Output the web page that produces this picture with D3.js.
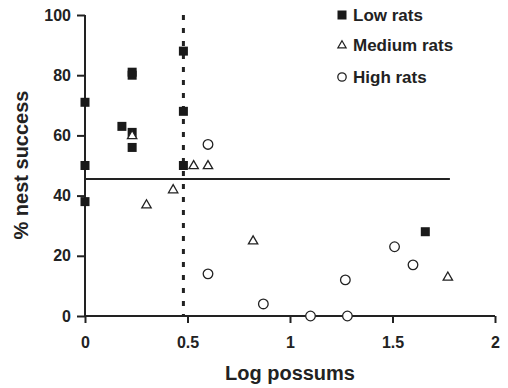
<!DOCTYPE html>
<html>
<head>
<meta charset="utf-8">
<script src="https://cdn.jsdelivr.net/npm/d3@7"></script>
<style>
  body { margin: 0; background: #fff; }
  text { font-family: "Liberation Sans", Arial, sans-serif; font-weight: bold; fill: #222; }
</style>
</head>
<body>
<div id="chart"></div>
<script>
/* CONSTANTS AND GLOBALS */
const width = 508,
  height = 388,
  margin = { top: 15, bottom: 72, left: 85, right: 13 };

// data: log possums (x) vs % nest success (y)
const lowRats = [
  [0, 71], [0, 50], [0, 38], [0.18, 63], [0.23, 81], [0.23, 80],
  [0.23, 61], [0.23, 56], [0.48, 88], [0.48, 68], [0.48, 50], [1.66, 28]
];
const mediumRats = [
  [0.23, 60], [0.30, 37], [0.43, 42], [0.53, 50], [0.60, 50], [0.82, 25], [1.77, 13]
];
const highRats = [
  [0.60, 57], [0.60, 14], [0.87, 4], [1.10, 0], [1.28, 0], [1.27, 12], [1.51, 23], [1.60, 17]
];
const xTicks = [0, 0.5, 1, 1.5, 2];
const yTicks = [0, 20, 40, 60, 80, 100];
const legendLabels = ["Low rats", "Medium rats", "High rats"];
const thresholdY = 45.5;   // horizontal reference line
const thresholdX = 0.48;   // dotted vertical line
const hLineEnd = 1.78;

const svg = d3.select("#chart").append("svg")
  .attr("width", width)
  .attr("height", height);

//SCALES
const xScale = d3.scaleLinear()
  .domain([0, 2])
  .range([margin.left, 495]);

const yScale = d3.scaleLinear()
  .domain([0, 100])
  .range([316, margin.top]);

//AXES
const xAxis = d3.axisBottom(xScale)
  .tickValues(xTicks)
  .tickSize(7)
  .tickPadding(14)
  .tickFormat(d3.format("~g"));

const yAxis = d3.axisLeft(yScale)
  .tickValues(yTicks)
  .tickSize(8)
  .tickPadding(6);

const xAxisGroup = svg.append("g")
  .attr("transform", `translate(0, ${yScale(0)})`)
  .call(xAxis);

const yAxisGroup = svg.append("g")
  .attr("transform", `translate(${margin.left}, 0)`)
  .call(yAxis);

[xAxisGroup, yAxisGroup].forEach(g => {
  g.select(".domain").attr("stroke", "#222").attr("stroke-width", 2);
  g.selectAll(".tick line").attr("stroke", "#222").attr("stroke-width", 2);
  g.selectAll(".tick text")
    .attr("font-size", 16)
    .attr("font-family", "Liberation Sans, Arial, sans-serif")
    .attr("font-weight", "bold")
    .attr("fill", "#222");
});
xAxisGroup.select(".domain").attr("d", `M${xScale(0)},0H${xScale(2)}`);
yAxisGroup.select(".domain").attr("d", `M0,${yScale(0)}V${yScale(100)}`);

//axis titles
svg.append("text")
  .attr("x", (xScale(0) + xScale(2)) / 2)
  .attr("y", 380)
  .attr("text-anchor", "middle")
  .attr("font-size", 20)
  .text("Log possums");

svg.append("text")
  .attr("transform", `translate(28, 165)rotate(-90)`)
  .attr("text-anchor", "middle")
  .attr("font-size", 20)
  .text("% nest success");

//reference lines
svg.append("line")
  .attr("x1", xScale(0))
  .attr("x2", xScale(hLineEnd))
  .attr("y1", yScale(thresholdY))
  .attr("y2", yScale(thresholdY))
  .attr("stroke", "#222")
  .attr("stroke-width", 2);

svg.append("line")
  .attr("x1", xScale(thresholdX))
  .attr("x2", xScale(thresholdX))
  .attr("y1", yScale(100))
  .attr("y2", yScale(0))
  .attr("stroke", "#222")
  .attr("stroke-width", 3)
  .attr("stroke-dasharray", "5,8");

//MARKS
const sq = 9;
svg.selectAll("rect.low")
  .data(lowRats)
  .join("rect")
  .attr("class", "low")
  .attr("x", d => xScale(d[0]) - sq / 2)
  .attr("y", d => yScale(d[1]) - sq / 2)
  .attr("width", sq)
  .attr("height", sq)
  .attr("fill", "#1a1a1a");

const tri = d3.symbol().type(d3.symbolTriangle).size(38);
svg.selectAll("path.med")
  .data(mediumRats)
  .join("path")
  .attr("class", "med")
  .attr("d", tri)
  .attr("transform", d => `translate(${xScale(d[0])}, ${yScale(d[1]) + 0.5})`)
  .attr("fill", "#fff")
  .attr("stroke", "#222")
  .attr("stroke-width", 1.3);

svg.selectAll("circle.high")
  .data(highRats)
  .join("circle")
  .attr("class", "high")
  .attr("cx", d => xScale(d[0]))
  .attr("cy", d => yScale(d[1]))
  .attr("r", 4.8)
  .attr("fill", "#fff")
  .attr("stroke", "#222")
  .attr("stroke-width", 1.3);

//LEGEND
const legend = svg.append("g").attr("transform", "translate(342, 0)");
const rows = [15, 45, 77];
legend.append("rect")
  .attr("x", -4.5).attr("y", rows[0] - 4.5)
  .attr("width", 9).attr("height", 9)
  .attr("fill", "#1a1a1a");
legend.append("path")
  .attr("d", d3.symbol().type(d3.symbolTriangle).size(30))
  .attr("transform", `translate(0, ${rows[1] + 0.5})`)
  .attr("fill", "#fff").attr("stroke", "#222").attr("stroke-width", 1.2);
legend.append("circle")
  .attr("cx", 0).attr("cy", rows[2]).attr("r", 4.2)
  .attr("fill", "#fff").attr("stroke", "#222").attr("stroke-width", 1.3);
legend.selectAll("text.leg")
  .data(legendLabels)
  .join("text")
  .attr("class", "leg")
  .attr("x", 11)
  .attr("y", (d, i) => rows[i])
  .attr("dy", "0.35em")
  .attr("font-size", 17)
  .text(d => d);
</script>
</body>
</html>
